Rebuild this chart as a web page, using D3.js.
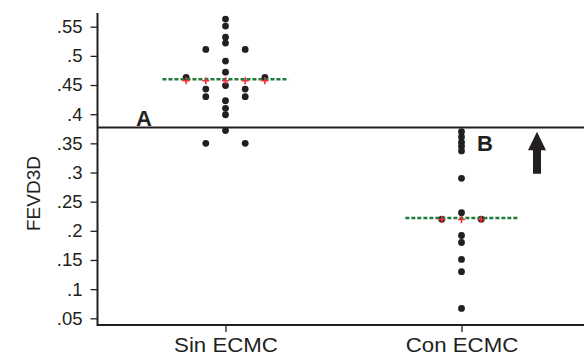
<!DOCTYPE html>
<html>
<head>
<meta charset="utf-8">
<script src="https://cdn.jsdelivr.net/npm/d3@7/dist/d3.min.js"></script>
<style>
  body { margin: 0; background: #fff; }
  text { font-family: "Liberation Sans", Arial, Helvetica, sans-serif; fill: #231f20; }
</style>
</head>
<body>
<svg id="chart" width="584" height="361"></svg>
<script>
// groups on the x axis
const groups = ["Sin ECMC", "Con ECMC"]
const yTicks = [0.05, 0.1, 0.15, 0.2, 0.25, 0.3, 0.35, 0.4, 0.45, 0.5, 0.55]

// dot plot: value and column slot (dots stacked side by side)
const sinValues = [0.563, 0.551, 0.532, 0.522, 0.491, 0.472, 0.449, 0.423, 0.410, 0.399, 0.372,
                   0.511, 0.511, 0.443, 0.443, 0.430, 0.430, 0.350, 0.350, 0.463, 0.463]
const sinCols   = [0, 0, 0, 0, 0, 0, 0, 0, 0, 0, 0,
                   -1, 1, -1, 1, -1, 1, -1, 1, -2, 2]
const conValues = [0.370, 0.361, 0.352, 0.345, 0.337, 0.290, 0.231, 0.192, 0.180, 0.151, 0.130, 0.067,
                   0.220, 0.220]
const conCols   = [0, 0, 0, 0, 0, 0, 0, 0, 0, 0, 0, 0, -1, 1]

// group means (red crosses + green dotted line)
const means = [0.460, 0.222]
const meanCols = [[-2, -1, 0, 1, 2], [-1, 0, 1]]
const meanSpan = [3.2, 2.85]

// cut-off line
const cutoff = 0.377

const svg = d3.select("#chart")
const ink = "#231f20"

const x = d3.scalePoint().domain(groups).range([225.5, 461.5])
const y = d3.scaleLinear().domain([0.05, 0.55]).range([318.3, 26.7])
const colStep = 19.7
const axisX = 97.5, axisY = 325

// y axis
const yAxis = svg.append("g")
    .attr("transform", `translate(${axisX},0)`)
    .call(d3.axisLeft(y).tickValues(yTicks).tickSize(7).tickPadding(8)
        .tickFormat(d => d3.format(".2~f")(d).replace(/^0/, "")))
yAxis.select(".domain").remove()
yAxis.selectAll("line").attr("stroke", ink).attr("stroke-width", 1.3)
yAxis.selectAll("text").attr("font-size", 18.5).attr("font-family", null).attr("fill", ink)

// x axis
const xAxis = svg.append("g")
    .attr("transform", `translate(0,${axisY})`)
    .call(d3.axisBottom(x).tickSize(7).tickPadding(5))
xAxis.select(".domain").remove()
xAxis.selectAll("line").attr("stroke", ink).attr("stroke-width", 1.3)
xAxis.selectAll("text").attr("font-size", 21).attr("font-family", null).attr("fill", ink)
    .attr("transform", "scale(1.06,1)")

// axis lines
svg.append("path")
    .attr("d", `M${axisX},13V${axisY}H584`)
    .attr("fill", "none").attr("stroke", ink).attr("stroke-width", 2)

// y title
svg.append("text")
    .attr("transform", `translate(40,${(y(0.05) + y(0.55)) / 2 + 21}) rotate(-90)`)
    .attr("text-anchor", "middle")
    .attr("font-size", 19)
    .text("FEVD3D")

// cut-off line
svg.append("line")
    .attr("x1", axisX).attr("x2", 584)
    .attr("y1", y(cutoff)).attr("y2", y(cutoff))
    .attr("stroke", ink).attr("stroke-width", 2)

// dots
const pts = sinValues.map((v, i) => ({ g: groups[0], v, c: sinCols[i] }))
    .concat(conValues.map((v, i) => ({ g: groups[1], v, c: conCols[i] })))
svg.append("g").selectAll("circle")
    .data(pts).join("circle")
    .attr("cx", d => x(d.g) + d.c * colStep)
    .attr("cy", d => y(d.v))
    .attr("r", 3.4)
    .attr("fill", ink)

// mean lines
svg.append("g").selectAll("line")
    .data(groups).join("line")
    .attr("x1", (g, i) => x(g) - meanSpan[i] * colStep)
    .attr("x2", (g, i) => x(g) + meanSpan[i] * colStep)
    .attr("y1", (g, i) => y(means[i]))
    .attr("y2", (g, i) => y(means[i]))
    .attr("stroke", "#1f7a3c").attr("stroke-width", 2.5)
    .attr("stroke-dasharray", "4,2")

// mean crosses
const crosses = []
groups.forEach((g, i) => meanCols[i].forEach(c => crosses.push({ g, c, v: means[i] })))
svg.append("g").selectAll("path")
    .data(crosses).join("path")
    .attr("d", d => {
        const cx = x(d.g) + d.c * colStep, cy = y(d.v) + 1.5
        return `M${cx - 3.5},${cy}H${cx + 3.5}M${cx},${cy - 3.5}V${cy + 3.5}`
    })
    .attr("stroke", "#e8313a").attr("stroke-width", 1.6)

// annotations
svg.append("text").attr("x", 136).attr("y", y(cutoff) - 2)
    .attr("font-size", 22).attr("font-weight", "bold").text("A")
svg.append("text").attr("x", 477).attr("y", y(cutoff) + 23)
    .attr("font-size", 22).attr("font-weight", "bold").text("B")

// arrow pointing up
const arrowX = 537, arrowTip = y(0.37), headBase = y(0.338), arrowEnd = y(0.298)
svg.append("path")
    .attr("d", `M${arrowX},${arrowTip}L${arrowX + 9},${headBase}H${arrowX + 4}V${arrowEnd}H${arrowX - 4}V${headBase}H${arrowX - 9}Z`)
    .attr("fill", ink)
</script>
</body>
</html>
